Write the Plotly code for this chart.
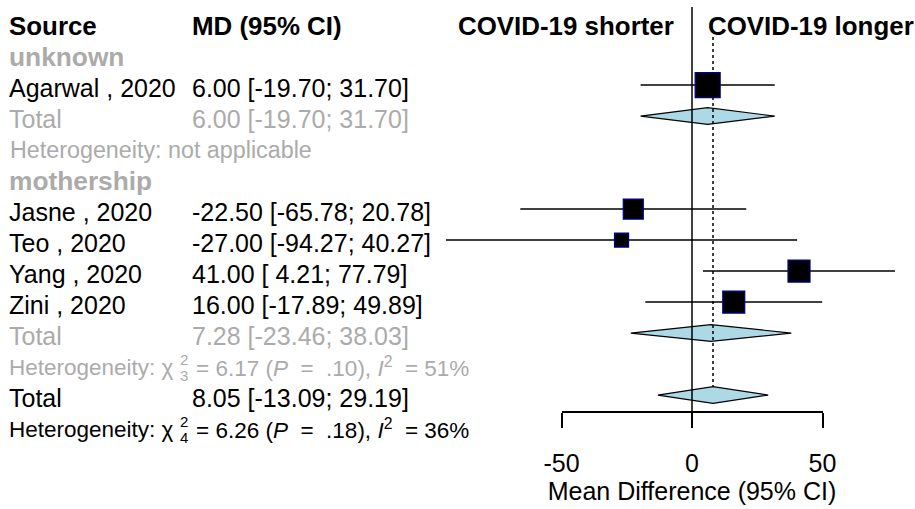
import math
import plotly.graph_objects as go

# ---- data -------------------------------------------------------------
studies = ["Agarwal , 2020", "Jasne , 2020", "Teo , 2020", "Yang , 2020", "Zini , 2020"]
study_group = ["unknown", "mothership", "mothership", "mothership", "mothership"]
md = [6.00, -22.50, -27.00, 41.00, 16.00]
ci_lo = [-19.70, -65.78, -94.27, 4.21, -17.89]
ci_hi = [31.70, 20.78, 40.27, 77.79, 49.89]
weights = [28.6, 18.3, 9.0, 22.1, 22.1]  # percent weight in the pooled model

groups = ["unknown", "mothership"]
group_md = [6.00, 7.28]
group_lo = [-19.70, -23.46]
group_hi = [31.70, 38.03]
group_het = [
    None,
    {"df": 3, "chi2": "6.17", "p": ".10", "i2": "51%"},
]

overall_md = 8.05
overall_lo = -13.09
overall_hi = 29.19
overall_het = {"df": 4, "chi2": "6.26", "p": ".18", "i2": "36%"}

axis_ticks = [-50, 0, 50]
axis_title = "Mean Difference (95% CI)"
left_label = "COVID-19 shorter"
right_label = "COVID-19 longer"

# ---- layout constants -------------------------------------------------
W, H = 915, 509
X0_PX = 692.0          # pixel of MD = 0
PX_PER_UNIT = 2.61     # horizontal scale
ROW0_PX = 24.0         # pixel of the header row
ROW_PX = 31.0          # row pitch

FONT = "Liberation Sans, Arial, sans-serif"
GRAY = "#ABABAB"
BLACK = "#000000"
FS = 25
FS_BOLD = 25.9
FS_HET = 22.5

x_range = [(0 - X0_PX) / PX_PER_UNIT, (W - X0_PX) / PX_PER_UNIT]
y_range = [(H - ROW0_PX) / ROW_PX, (0 - ROW0_PX) / ROW_PX]


def col(p):
    """Horizontal pixel -> MD units (text columns share the plotting axis)."""
    return (p - X0_PX) / PX_PER_UNIT


def row_of_px(p):
    return (p - ROW0_PX) / ROW_PX


fig = go.Figure()
annotations = []


def text(x_px, row, s, color=BLACK, size=FS, bold=False, anchor="left", yshift=-2):
    if bold:
        s = "<b>" + s + "</b>"
    annotations.append(dict(
        x=col(x_px), xref="x", y=row, yref="y",
        text=s, showarrow=False, xanchor=anchor, yanchor="middle",
        font=dict(family=FONT, size=size, color=color), yshift=yshift,
        borderpad=0, borderwidth=0,
    ))


def het_line(row, het, color):
    # "Heterogeneity: chi^2_df = .. (P = ..), I^2 = .."
    text(9, row, "Heterogeneity: χ", color=color, size=FS_HET)
    text(180, row, "2", color=color, size=15, yshift=6)
    text(180, row, str(het["df"]), color=color, size=15, yshift=-10)
    rest = ("= {} (<i>P</i>&nbsp; =&nbsp; {}), <i>I</i><sup>2</sup>&nbsp; = {}"
            .format(het["chi2"], het["p"], het["i2"]))
    text(196, row, rest, color=color, size=FS_HET)


def fmt_ci(est, lo, hi):
    lo_s = "{:.2f}".format(lo)
    if lo >= 0:
        lo_s = "&nbsp;" + lo_s
    return "{:.2f} [{}; {:.2f}]".format(est, lo_s, hi)


def diamond(row, est, lo, hi, half=0.27):
    fig.add_trace(go.Scatter(
        x=[lo, est, hi, est, lo], y=[row, row - half, row, row + half, row],
        mode="lines", fill="toself", fillcolor="#ADD8E6",
        line=dict(color=BLACK, width=1.2), hoverinfo="skip", showlegend=False,
    ))


# column headers
text(9, 0, "Source", size=FS_BOLD, bold=True)
text(192, 0, "MD (95% CI)", size=FS_BOLD, bold=True)
text(674, 0, left_label, size=FS_BOLD, bold=True, anchor="right")
text(708, 0, right_label, size=FS_BOLD, bold=True, anchor="left")

# rows
row = 1
study_rows = []
diamond_specs = []
for gi, g in enumerate(groups):
    text(9, row, g, color=GRAY, size=26.3, bold=True)
    row += 1
    for i, s in enumerate(studies):
        if study_group[i] != g:
            continue
        text(9, row, s)
        text(192, row, fmt_ci(md[i], ci_lo[i], ci_hi[i]))
        study_rows.append((i, row))
        row += 1
    text(9, row, "Total", color=GRAY)
    text(192, row, fmt_ci(group_md[gi], group_lo[gi], group_hi[gi]), color=GRAY)
    diamond_specs.append((row, group_md[gi], group_lo[gi], group_hi[gi]))
    row += 1
    if group_het[gi] is None:
        text(10, row, "Heterogeneity: not applicable", color=GRAY, size=23.3)
    else:
        het_line(row, group_het[gi], GRAY)
    row += 1

text(9, row, "Total")
text(192, row, fmt_ci(overall_md, overall_lo, overall_hi))
overall_row = row
diamond_specs.append((row, overall_md, overall_lo, overall_hi))
row += 1
het_line(row, overall_het, BLACK)

# reference lines
axis_row = row_of_px(412)
fig.add_shape(type="line", x0=0, x1=0, y0=row_of_px(7), y1=axis_row,
              xref="x", yref="y", line=dict(color=BLACK, width=1.5))
fig.add_shape(type="line", x0=overall_md, x1=overall_md, y0=row_of_px(37),
              y1=overall_row - 0.3, xref="x", yref="y",
              line=dict(color=BLACK, width=1.5, dash="dot"))

# confidence intervals
for i, r in study_rows:
    fig.add_trace(go.Scatter(
        x=[ci_lo[i], ci_hi[i]], y=[r - 0.03, r - 0.03], mode="lines",
        line=dict(color=BLACK, width=1.5), hoverinfo="skip", showlegend=False,
    ))

# study squares (area proportional to weight)
wmax = max(weights)
fig.add_trace(go.Scatter(
    x=[md[i] for i, _ in study_rows],
    y=[r - 0.03 for _, r in study_rows],
    mode="markers", opacity=1,
    marker=dict(symbol="square", color=BLACK, opacity=1,
                size=[25 * math.sqrt(weights[i] / wmax) for i, _ in study_rows],
                line=dict(color="#00008B", width=1.2)),
    hoverinfo="skip", showlegend=False,
))

for r, est, lo, hi in diamond_specs:
    diamond(r - 0.03, est, lo, hi)

# bottom scale axis, on the same pixel scale as the plotting axis
lo_px = X0_PX + axis_ticks[0] * PX_PER_UNIT
hi_px = X0_PX + axis_ticks[-1] * PX_PER_UNIT
fig.add_trace(go.Scatter(x=[axis_ticks[0], axis_ticks[-1]], y=[axis_row, axis_row],
                         xaxis="x2", yaxis="y", mode="markers",
                         marker=dict(size=0.1, opacity=0), hoverinfo="skip",
                         showlegend=False))

fig.update_layout(
    width=W, height=H,
    margin=dict(l=0, r=0, t=0, b=0, pad=0, autoexpand=False),
    paper_bgcolor="white", plot_bgcolor="rgba(0,0,0,0)",
    xaxis=dict(range=x_range, visible=False, domain=[0, 1]),
    yaxis=dict(range=y_range, visible=False, domain=[0, 1]),
    xaxis2=dict(
        domain=[lo_px / W, hi_px / W], range=[axis_ticks[0], axis_ticks[-1]],
        anchor="free", position=1 - 412 / H, side="bottom",
        showline=True, linecolor=BLACK, linewidth=1.5,
        ticks="outside", ticklen=15, tickwidth=1.5, tickcolor=BLACK,
        ticklabelstandoff=14,
        tickvals=axis_ticks, ticktext=[str(t) for t in axis_ticks],
        tickfont=dict(family=FONT, size=FS, color=BLACK),
        showgrid=False, zeroline=False,
        title=dict(text=axis_title, font=dict(family=FONT, size=FS, color=BLACK), standoff=4),
    ),
    annotations=annotations,
    showlegend=False,
)

fig.write_html("out.html")
